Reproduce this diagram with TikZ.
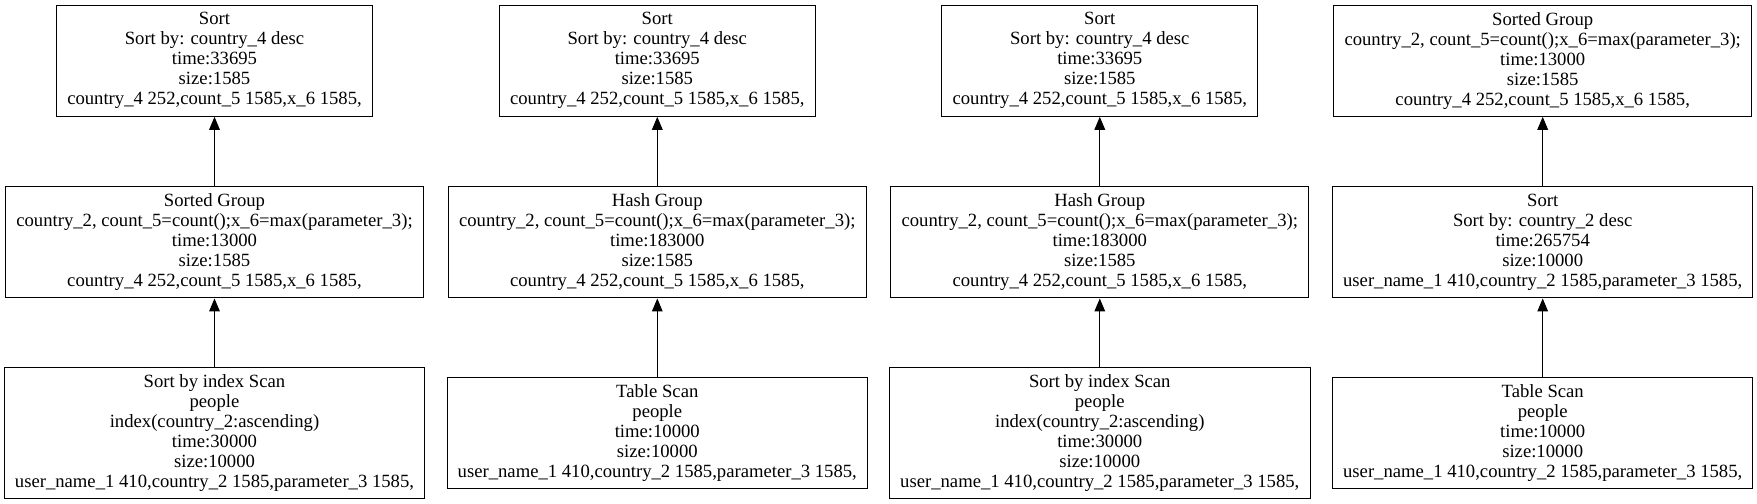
\documentclass[tikz,border=0pt]{standalone}
\usepackage{fontspec}
\setmainfont{Liberation Serif}
\usetikzlibrary{arrows.meta}

\begin{document}
\begin{tikzpicture}[>={Triangle[length=9.75pt,width=8pt]},line width=0.75pt]
\tikzstyle{plan node}=[font=\fontsize{14}{15}\selectfont,draw,align=center,inner xsep=8pt,minimum height=83.25pt]
\tikzstyle{tall plan node}=[plan node,minimum height=98.5pt]

\useasboundingbox (0,0) rectangle (46.314,-13.285);

% plan 1
\node[plan node] (v1) at (5.654,-1.603) {Sort\\Sort by: country\_4 desc\\time:33695\\size:1585\\country\_4 252,count\_5 1585,x\_6 1585,};
\node[plan node] (v2) at (5.654,-6.392) {Sorted Group\\country\_2, count\_5=count();x\_6=max(parameter\_3);\\time:13000\\size:1585\\country\_4 252,count\_5 1585,x\_6 1585,};
\node[tall plan node] (v3) at (5.654,-11.422) {Sort by index Scan\\people\\index(country\_2:ascending)\\time:30000\\size:10000\\user\_name\_1 410,country\_2 1585,parameter\_3 1585,};
\draw [->](v3) -- (v2);
\draw [->](v2) -- (v1);

% plan 2
\node[plan node] (v4) at (17.326,-1.603) {Sort\\Sort by: country\_4 desc\\time:33695\\size:1585\\country\_4 252,count\_5 1585,x\_6 1585,};
\node[plan node] (v5) at (17.326,-6.392) {Hash Group\\country\_2, count\_5=count();x\_6=max(parameter\_3);\\time:183000\\size:1585\\country\_4 252,count\_5 1585,x\_6 1585,};
\node[plan node] (v6) at (17.326,-11.422) {Table Scan\\people\\time:10000\\size:10000\\user\_name\_1 410,country\_2 1585,parameter\_3 1585,};
\draw [->](v6) -- (v5);
\draw [->](v5) -- (v4);

% plan 3
\node[plan node] (v7) at (28.990,-1.603) {Sort\\Sort by: country\_4 desc\\time:33695\\size:1585\\country\_4 252,count\_5 1585,x\_6 1585,};
\node[plan node] (v8) at (28.990,-6.392) {Hash Group\\country\_2, count\_5=count();x\_6=max(parameter\_3);\\time:183000\\size:1585\\country\_4 252,count\_5 1585,x\_6 1585,};
\node[tall plan node] (v9) at (28.990,-11.422) {Sort by index Scan\\people\\index(country\_2:ascending)\\time:30000\\size:10000\\user\_name\_1 410,country\_2 1585,parameter\_3 1585,};
\draw [->](v9) -- (v8);
\draw [->](v8) -- (v7);

% plan 4
\node[plan node] (v10) at (40.665,-1.603) {Sorted Group\\country\_2, count\_5=count();x\_6=max(parameter\_3);\\time:13000\\size:1585\\country\_4 252,count\_5 1585,x\_6 1585,};
\node[plan node] (v11) at (40.665,-6.392) {Sort\\Sort by: country\_2 desc\\time:265754\\size:10000\\user\_name\_1 410,country\_2 1585,parameter\_3 1585,};
\node[plan node] (v12) at (40.665,-11.422) {Table Scan\\people\\time:10000\\size:10000\\user\_name\_1 410,country\_2 1585,parameter\_3 1585,};
\draw [->](v12) -- (v11);
\draw [->](v11) -- (v10);
\end{tikzpicture}
\end{document}
